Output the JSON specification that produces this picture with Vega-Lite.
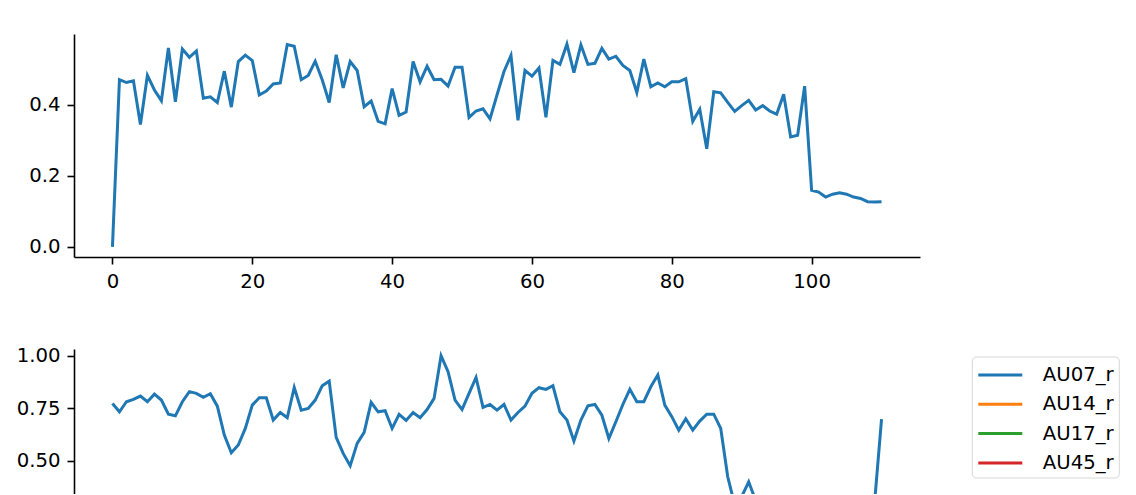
{
  "$schema": "https://vega.github.io/schema/vega-lite/v6.json",
  "padding": {"left": 16, "top": 34, "right": 0, "bottom": 0},
  "bounds": "flush",
  "spacing": 92,
  "background": "white",
  "config": {
    "view": {"stroke": null},
    "axis": {
      "grid": false,
      "domainColor": "black",
      "domainWidth": 1.6,
      "tickColor": "black",
      "tickWidth": 1.6,
      "tickSize": 7,
      "labelPadding": 7,
      "labelFont": "DejaVu Sans",
      "labelFontSize": 19.7,
      "labelColor": "black",
      "title": null,
      "labelFlush": false,
      "labelOverlap": false
    }
  },
  "datasets": {
    "top": [
      {"frame": 0, "value": 0.0}, {"frame": 1, "value": 0.470}, {"frame": 2, "value": 0.462}, {"frame": 3, "value": 0.467},
      {"frame": 4, "value": 0.344}, {"frame": 5, "value": 0.482}, {"frame": 6, "value": 0.441}, {"frame": 7, "value": 0.411},
      {"frame": 8, "value": 0.559}, {"frame": 9, "value": 0.408}, {"frame": 10, "value": 0.556}, {"frame": 11, "value": 0.533},
      {"frame": 12, "value": 0.551}, {"frame": 13, "value": 0.418}, {"frame": 14, "value": 0.422}, {"frame": 15, "value": 0.406},
      {"frame": 16, "value": 0.494}, {"frame": 17, "value": 0.393}, {"frame": 18, "value": 0.521}, {"frame": 19, "value": 0.539},
      {"frame": 20, "value": 0.524}, {"frame": 21, "value": 0.427}, {"frame": 22, "value": 0.438}, {"frame": 23, "value": 0.458},
      {"frame": 24, "value": 0.461}, {"frame": 25, "value": 0.569}, {"frame": 26, "value": 0.564}, {"frame": 27, "value": 0.470},
      {"frame": 28, "value": 0.482}, {"frame": 29, "value": 0.522}, {"frame": 30, "value": 0.470}, {"frame": 31, "value": 0.406},
      {"frame": 32, "value": 0.540}, {"frame": 33, "value": 0.447}, {"frame": 34, "value": 0.521}, {"frame": 35, "value": 0.496},
      {"frame": 36, "value": 0.394}, {"frame": 37, "value": 0.410}, {"frame": 38, "value": 0.353}, {"frame": 39, "value": 0.346},
      {"frame": 40, "value": 0.445}, {"frame": 41, "value": 0.370}, {"frame": 42, "value": 0.379}, {"frame": 43, "value": 0.521},
      {"frame": 44, "value": 0.464}, {"frame": 45, "value": 0.508}, {"frame": 46, "value": 0.470}, {"frame": 47, "value": 0.471},
      {"frame": 48, "value": 0.452}, {"frame": 49, "value": 0.505}, {"frame": 50, "value": 0.505}, {"frame": 51, "value": 0.364},
      {"frame": 52, "value": 0.382}, {"frame": 53, "value": 0.388}, {"frame": 54, "value": 0.360}, {"frame": 55, "value": 0.427},
      {"frame": 56, "value": 0.493}, {"frame": 57, "value": 0.538}, {"frame": 58, "value": 0.356}, {"frame": 59, "value": 0.496},
      {"frame": 60, "value": 0.480}, {"frame": 61, "value": 0.503}, {"frame": 62, "value": 0.364}, {"frame": 63, "value": 0.524},
      {"frame": 64, "value": 0.513}, {"frame": 65, "value": 0.570}, {"frame": 66, "value": 0.490}, {"frame": 67, "value": 0.568},
      {"frame": 68, "value": 0.513}, {"frame": 69, "value": 0.516}, {"frame": 70, "value": 0.558}, {"frame": 71, "value": 0.528},
      {"frame": 72, "value": 0.536}, {"frame": 73, "value": 0.510}, {"frame": 74, "value": 0.496}, {"frame": 75, "value": 0.434},
      {"frame": 76, "value": 0.528}, {"frame": 77, "value": 0.450}, {"frame": 78, "value": 0.461}, {"frame": 79, "value": 0.450},
      {"frame": 80, "value": 0.464}, {"frame": 81, "value": 0.464}, {"frame": 82, "value": 0.473}, {"frame": 83, "value": 0.353},
      {"frame": 84, "value": 0.387}, {"frame": 85, "value": 0.276}, {"frame": 86, "value": 0.436}, {"frame": 87, "value": 0.433},
      {"frame": 88, "value": 0.406}, {"frame": 89, "value": 0.381}, {"frame": 90, "value": 0.397}, {"frame": 91, "value": 0.412},
      {"frame": 92, "value": 0.385}, {"frame": 93, "value": 0.397}, {"frame": 94, "value": 0.382}, {"frame": 95, "value": 0.373},
      {"frame": 96, "value": 0.429}, {"frame": 97, "value": 0.309}, {"frame": 98, "value": 0.314}, {"frame": 99, "value": 0.452},
      {"frame": 100, "value": 0.159}, {"frame": 101, "value": 0.154}, {"frame": 102, "value": 0.140}, {"frame": 103, "value": 0.148},
      {"frame": 104, "value": 0.152}, {"frame": 105, "value": 0.148}, {"frame": 106, "value": 0.140}, {"frame": 107, "value": 0.136},
      {"frame": 108, "value": 0.127}, {"frame": 109, "value": 0.126}, {"frame": 110, "value": 0.127}
    ],
    "bottom": [
      {"frame": 0, "value": 0.773, "series": "AU07_r"}, {"frame": 1, "value": 0.733, "series": "AU07_r"},
      {"frame": 2, "value": 0.781, "series": "AU07_r"}, {"frame": 3, "value": 0.792, "series": "AU07_r"},
      {"frame": 4, "value": 0.808, "series": "AU07_r"}, {"frame": 5, "value": 0.781, "series": "AU07_r"},
      {"frame": 6, "value": 0.817, "series": "AU07_r"}, {"frame": 7, "value": 0.789, "series": "AU07_r"},
      {"frame": 8, "value": 0.722, "series": "AU07_r"}, {"frame": 9, "value": 0.714, "series": "AU07_r"},
      {"frame": 10, "value": 0.781, "series": "AU07_r"}, {"frame": 11, "value": 0.829, "series": "AU07_r"},
      {"frame": 12, "value": 0.821, "series": "AU07_r"}, {"frame": 13, "value": 0.802, "series": "AU07_r"},
      {"frame": 14, "value": 0.819, "series": "AU07_r"}, {"frame": 15, "value": 0.760, "series": "AU07_r"},
      {"frame": 16, "value": 0.622, "series": "AU07_r"}, {"frame": 17, "value": 0.538, "series": "AU07_r"},
      {"frame": 18, "value": 0.575, "series": "AU07_r"}, {"frame": 19, "value": 0.654, "series": "AU07_r"},
      {"frame": 20, "value": 0.765, "series": "AU07_r"}, {"frame": 21, "value": 0.800, "series": "AU07_r"},
      {"frame": 22, "value": 0.800, "series": "AU07_r"}, {"frame": 23, "value": 0.694, "series": "AU07_r"},
      {"frame": 24, "value": 0.730, "series": "AU07_r"}, {"frame": 25, "value": 0.705, "series": "AU07_r"},
      {"frame": 26, "value": 0.849, "series": "AU07_r"}, {"frame": 27, "value": 0.741, "series": "AU07_r"},
      {"frame": 28, "value": 0.749, "series": "AU07_r"}, {"frame": 29, "value": 0.789, "series": "AU07_r"},
      {"frame": 30, "value": 0.857, "series": "AU07_r"}, {"frame": 31, "value": 0.879, "series": "AU07_r"},
      {"frame": 32, "value": 0.611, "series": "AU07_r"}, {"frame": 33, "value": 0.535, "series": "AU07_r"},
      {"frame": 34, "value": 0.476, "series": "AU07_r"}, {"frame": 35, "value": 0.583, "series": "AU07_r"},
      {"frame": 36, "value": 0.635, "series": "AU07_r"}, {"frame": 37, "value": 0.778, "series": "AU07_r"},
      {"frame": 38, "value": 0.733, "series": "AU07_r"}, {"frame": 39, "value": 0.738, "series": "AU07_r"},
      {"frame": 40, "value": 0.654, "series": "AU07_r"}, {"frame": 41, "value": 0.721, "series": "AU07_r"},
      {"frame": 42, "value": 0.692, "series": "AU07_r"}, {"frame": 43, "value": 0.730, "series": "AU07_r"},
      {"frame": 44, "value": 0.705, "series": "AU07_r"}, {"frame": 45, "value": 0.744, "series": "AU07_r"},
      {"frame": 46, "value": 0.797, "series": "AU07_r"}, {"frame": 47, "value": 1.0, "series": "AU07_r"},
      {"frame": 48, "value": 0.924, "series": "AU07_r"}, {"frame": 49, "value": 0.789, "series": "AU07_r"},
      {"frame": 50, "value": 0.744, "series": "AU07_r"}, {"frame": 51, "value": 0.821, "series": "AU07_r"},
      {"frame": 52, "value": 0.897, "series": "AU07_r"}, {"frame": 53, "value": 0.754, "series": "AU07_r"},
      {"frame": 54, "value": 0.768, "series": "AU07_r"}, {"frame": 55, "value": 0.741, "series": "AU07_r"},
      {"frame": 56, "value": 0.768, "series": "AU07_r"}, {"frame": 57, "value": 0.694, "series": "AU07_r"},
      {"frame": 58, "value": 0.730, "series": "AU07_r"}, {"frame": 59, "value": 0.760, "series": "AU07_r"},
      {"frame": 60, "value": 0.821, "series": "AU07_r"}, {"frame": 61, "value": 0.848, "series": "AU07_r"},
      {"frame": 62, "value": 0.840, "series": "AU07_r"}, {"frame": 63, "value": 0.857, "series": "AU07_r"},
      {"frame": 64, "value": 0.733, "series": "AU07_r"}, {"frame": 65, "value": 0.694, "series": "AU07_r"},
      {"frame": 66, "value": 0.594, "series": "AU07_r"}, {"frame": 67, "value": 0.694, "series": "AU07_r"},
      {"frame": 68, "value": 0.762, "series": "AU07_r"}, {"frame": 69, "value": 0.768, "series": "AU07_r"},
      {"frame": 70, "value": 0.717, "series": "AU07_r"}, {"frame": 71, "value": 0.606, "series": "AU07_r"},
      {"frame": 72, "value": 0.686, "series": "AU07_r"}, {"frame": 73, "value": 0.768, "series": "AU07_r"},
      {"frame": 74, "value": 0.840, "series": "AU07_r"}, {"frame": 75, "value": 0.781, "series": "AU07_r"},
      {"frame": 76, "value": 0.781, "series": "AU07_r"}, {"frame": 77, "value": 0.852, "series": "AU07_r"},
      {"frame": 78, "value": 0.908, "series": "AU07_r"}, {"frame": 79, "value": 0.765, "series": "AU07_r"},
      {"frame": 80, "value": 0.710, "series": "AU07_r"}, {"frame": 81, "value": 0.646, "series": "AU07_r"},
      {"frame": 82, "value": 0.700, "series": "AU07_r"}, {"frame": 83, "value": 0.646, "series": "AU07_r"},
      {"frame": 84, "value": 0.689, "series": "AU07_r"}, {"frame": 85, "value": 0.722, "series": "AU07_r"},
      {"frame": 86, "value": 0.722, "series": "AU07_r"}, {"frame": 87, "value": 0.654, "series": "AU07_r"},
      {"frame": 88, "value": 0.424, "series": "AU07_r"}, {"frame": 89, "value": 0.29, "series": "AU07_r"},
      {"frame": 90, "value": 0.33, "series": "AU07_r"}, {"frame": 91, "value": 0.40, "series": "AU07_r"},
      {"frame": 92, "value": 0.31, "series": "AU07_r"}, {"frame": 109, "value": 0.30, "series": "AU07_r"},
      {"frame": 110, "value": 0.698, "series": "AU07_r"}
    ]
  },
  "vconcat": [
    {
      "width": 846,
      "height": 223,
      "data": {"name": "top"},
      "mark": {"type": "line", "color": "#1f77b4", "strokeWidth": 3},
      "encoding": {
        "x": {"field": "frame", "type": "quantitative", "scale": {"domain": [-5.5, 115.5], "nice": false, "zero": false}, "axis": {"values": [0, 20, 40, 60, 80, 100]}},
        "y": {"field": "value", "type": "quantitative", "scale": {"domain": [-0.0285, 0.5985], "nice": false, "zero": false}, "axis": {"values": [0, 0.2, 0.4], "format": ".1f"}}
      }
    },
    {
      "width": 846,
      "height": 145,
      "data": {"name": "bottom"},
      "mark": {"type": "line", "strokeWidth": 3, "clip": true},
      "encoding": {
        "x": {"field": "frame", "type": "quantitative", "scale": {"domain": [-5.5, 115.5], "nice": false, "zero": false}, "axis": null},
        "y": {"field": "value", "type": "quantitative", "scale": {"domain": [0.342, 1.032], "nice": false, "zero": false}, "axis": {"values": [0.5, 0.75, 1.0], "format": ".2f"}},
        "color": {
          "field": "series",
          "type": "nominal",
          "scale": {"domain": ["AU07_r", "AU14_r", "AU17_r", "AU45_r"], "range": ["#1f77b4", "#ff7f0e", "#2ca02c", "#d62728"]},
          "legend": {
            "orient": "none",
            "legendX": 897.8,
            "legendY": 322.5,
            "title": null,
            "symbolType": "M-1.76,0H1.76",
            "symbolSize": 625,
            "symbolStrokeWidth": 3,
            "symbolOffset": 10,
            "labelOffset": 28.5,
            "labelFont": "DejaVu Sans",
            "labelFontSize": 19.7,
            "labelColor": "black",
            "padding": 4.5,
            "rowPadding": 5.3,
            "strokeColor": "#d6d6d6",
            "fillColor": "white",
            "cornerRadius": 4
          }
        }
      }
    }
  ]
}
